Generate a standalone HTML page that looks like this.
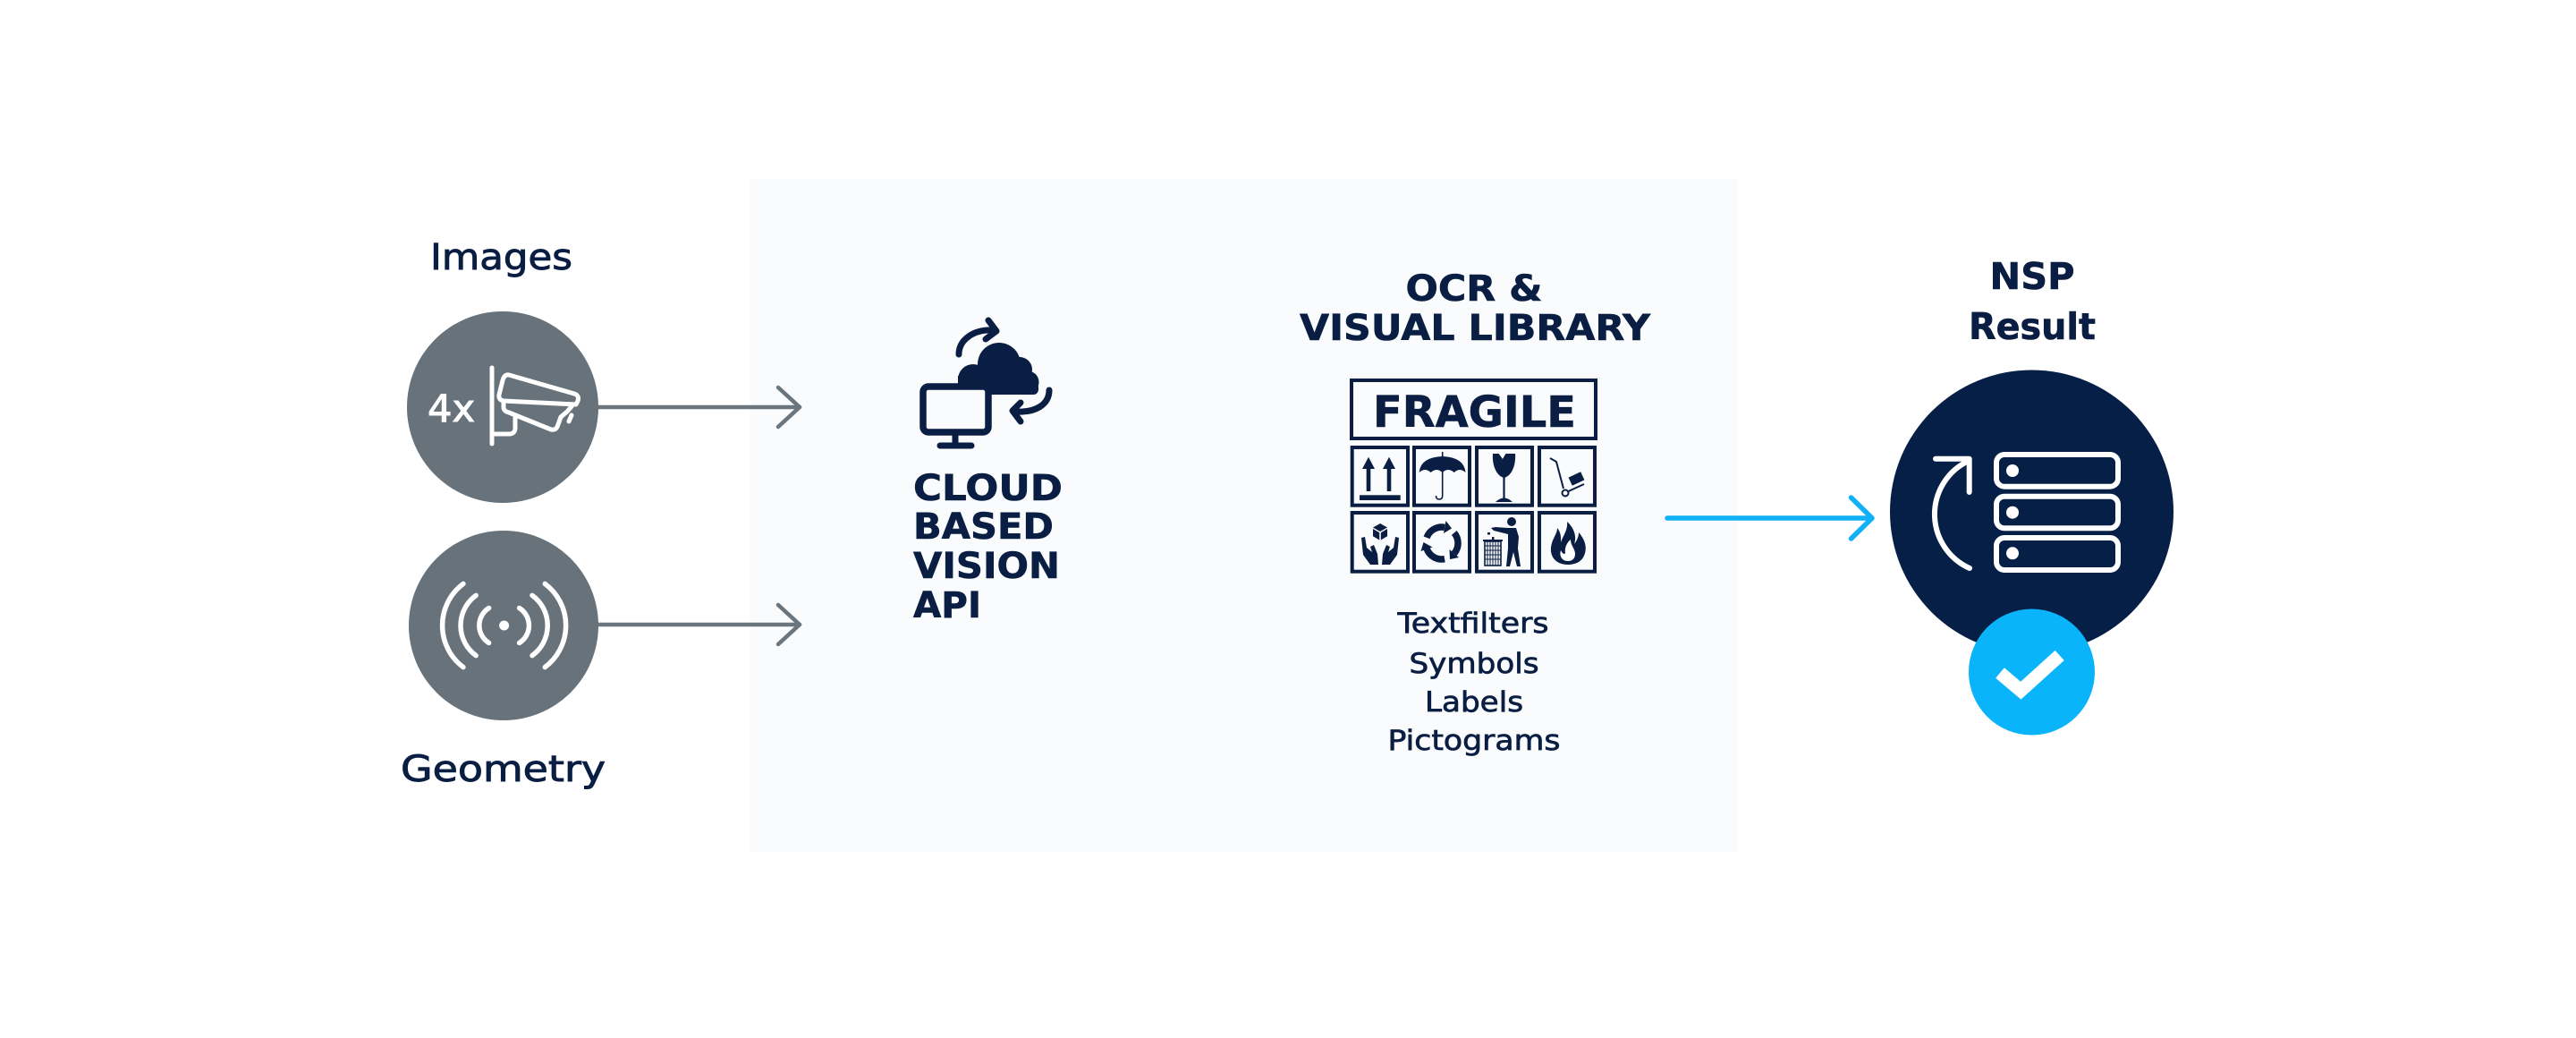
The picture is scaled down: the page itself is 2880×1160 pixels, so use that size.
<!DOCTYPE html>
<html>
<head>
<meta charset="utf-8">
<style>
html,body{margin:0;padding:0;background:#fff;}
svg{display:block;}
text{font-family:"DejaVu Sans","Liberation Sans",sans-serif;}
</style>
</head>
<body>
<svg width="2880" height="1160" viewBox="0 0 2880 1160" xmlns="http://www.w3.org/2000/svg">
  <rect width="2880" height="1160" fill="#ffffff"/>
  <!-- central panel -->
  <rect x="839" y="200" width="1104" height="752" fill="#f9fbfd"/>

  <!-- gray arrows -->
  <g stroke="#6b757d" stroke-width="4.5" fill="none" stroke-linecap="round" stroke-linejoin="round">
    <path d="M660,455 L894,455"/>
    <path d="M870,433 L894,455 L870,477"/>
    <path d="M660,698 L894,698"/>
    <path d="M870,676 L894,698 L870,720"/>
  </g>

  <!-- left circles -->
  <circle cx="562" cy="455" r="107" fill="#67727a"/>
  <circle cx="563" cy="699" r="106" fill="#67727a"/>

  <!-- camera icon -->
  <text x="478" y="471" font-size="42" fill="#ffffff" stroke="#ffffff" stroke-width="1" textLength="53" lengthAdjust="spacingAndGlyphs">4x</text>
  <g stroke="#ffffff" stroke-width="5" fill="none" stroke-linecap="round" stroke-linejoin="round">
    <path d="M550,411 L550,496"/>
    <path d="M569,419 L642,440 Q648,442 646,448 L644,452 L563,448 Q557,447 558,441 L562,425 Q564,418 569,419 Z"/>
    <path d="M563,450 L563,456 Q564,460 569,461 L616,480 Q621,481 623,477 L627,466 L634,460 L640,453"/>
    <path d="M639,464 L636,471"/>
    <path d="M576,465 L576,478 Q576,485 569,485 L552,485"/>
  </g>

  <!-- signal icon -->
  <g stroke="#ffffff" stroke-width="5.5" fill="none" stroke-linecap="round">
    <circle cx="563.6" cy="699" r="5.5" fill="#ffffff" stroke="none"/>
    <path d="M546.6,679.5 A23,23 0 0 0 546.6,718.5"/>
    <path d="M532.2,665.4 A41.4,41.4 0 0 0 532.2,732.6"/>
    <path d="M517.9,652.4 A58.2,58.2 0 0 0 517.9,745.6"/>
    <path d="M580.6,679.5 A23,23 0 0 1 580.6,718.5"/>
    <path d="M595,665.4 A41.4,41.4 0 0 1 595,732.6"/>
    <path d="M609.3,652.4 A58.2,58.2 0 0 1 609.3,745.6"/>
  </g>

  <g fill="#0a1e43" stroke="#0a1e43" stroke-width="0.9">
    <text x="481" y="301" font-size="40" textLength="159" lengthAdjust="spacingAndGlyphs">Images</text>
    <text x="448" y="873" font-size="40" textLength="229" lengthAdjust="spacingAndGlyphs">Geometry</text>
  </g>

  <!-- cloud icon -->
  <g fill="#0a1e43">
    <circle cx="1088" cy="424" r="17"/>
    <circle cx="1117" cy="407" r="24"/>
    <circle cx="1140" cy="413" r="14"/>
    <circle cx="1149" cy="427" r="12.5"/>
    <path d="M1071,420 L1158,420 Q1161.5,430 1161,436 Q1160,441 1155,441 L1071,441 Z"/>
  </g>
  <rect x="1032" y="432" width="73" height="51" rx="6" fill="#f9fbfd" stroke="#0a1e43" stroke-width="7.5"/>
  <g stroke="#0a1e43" stroke-width="7" fill="none" stroke-linecap="round" stroke-linejoin="round">
    <path d="M1068,487 L1068,497"/>
    <path d="M1051,498 L1086,498"/>
    <path d="M1072,396 C1072,380 1088,368 1110,369"/>
    <path d="M1105,358 L1114,370 L1102,379"/>
    <path d="M1173,436 C1173,452 1158,461 1137,460"/>
    <path d="M1141,450 L1132,459 L1141,471"/>
  </g>

  <g font-weight="bold" font-size="40" fill="#0a1e43" stroke="#0a1e43" stroke-width="0.6">
    <text x="1021" y="559" textLength="167" lengthAdjust="spacingAndGlyphs">CLOUD</text>
    <text x="1021" y="602" textLength="157" lengthAdjust="spacingAndGlyphs">BASED</text>
    <text x="1021" y="646" textLength="164" lengthAdjust="spacingAndGlyphs">VISION</text>
    <text x="1021" y="690" textLength="76" lengthAdjust="spacingAndGlyphs">API</text>
    <text x="1648" y="336" text-anchor="middle" textLength="153" lengthAdjust="spacingAndGlyphs">OCR &amp;</text>
    <text x="1649" y="380" text-anchor="middle" textLength="392" lengthAdjust="spacingAndGlyphs">VISUAL LIBRARY</text>
  </g>

  <!-- FRAGILE box -->
  <g fill="none" stroke="#0a1e43" stroke-width="4">
    <rect x="1511" y="425" width="273" height="65"/>
    <rect x="1511.7" y="500" width="62.3" height="64.7"/>
    <rect x="1581" y="500" width="62" height="64.7"/>
    <rect x="1651" y="500" width="62" height="64.7"/>
    <rect x="1721" y="500" width="62" height="64.7"/>
    <rect x="1511.7" y="573" width="62.3" height="65.7"/>
    <rect x="1581" y="573" width="62" height="65.7"/>
    <rect x="1651" y="573" width="62" height="65.7"/>
    <rect x="1721" y="573" width="62" height="65.7"/>
  </g>
  <text x="1648.5" y="477" font-size="48" font-weight="bold" fill="#0a1e43" stroke="#0a1e43" stroke-width="0.6" text-anchor="middle" textLength="227" lengthAdjust="spacingAndGlyphs">FRAGILE</text>

  <g fill="#0a1e43">
    <!-- cell1 arrows -->
    <polygon points="1530,510.7 1537,524 1523,524"/>
    <rect x="1527.7" y="523" width="4.6" height="26"/>
    <polygon points="1553,510.7 1560,524 1546,524"/>
    <rect x="1550.7" y="523" width="4.6" height="26"/>
    <rect x="1520" y="553.3" width="45.7" height="5.7"/>
    <!-- cell2 umbrella -->
    <path d="M1586.7,528 Q1588,511 1612.7,510 Q1637,511 1638.5,528 Q1632,522 1625.7,528 Q1619,522 1612.7,528 Q1606,522 1599.7,528 Q1593,522 1586.7,528 Z"/>
    <!-- cell3 glass -->
    <path d="M1669,507 L1694,507 C1695,520 1690,532 1681.5,534 C1673,532 1668,520 1669,507 Z"/>
    <polygon points="1675,506 1680,513 1677,518 1684,506" fill="#ffffff"/>
    <rect x="1680.4" y="532" width="2.2" height="25"/>
    <path d="M1672,561 Q1681.5,552 1691,561 Z"/>
    <!-- cell4 truck box -->
    <rect x="1755" y="530" width="15" height="10" transform="rotate(-25 1762.5 535)"/>
    <!-- cell5 cube -->
    <polygon points="1543,585 1551,589.5 1543,594 1535,589.5"/>
    <polygon points="1535,591 1542.2,595.3 1542.2,603.5 1535,599.2"/>
    <polygon points="1543.8,595.3 1551,591 1551,599.2 1543.8,603.5"/>
    <path d="M1522,601 L1526,600 L1528,612 L1534,617 L1532,611 L1536,609 L1540,619 L1541,631 L1532,631 L1524,620 Z"/>
    <path d="M1564,601 L1560,600 L1558,612 L1552,617 L1554,611 L1550,609 L1546,619 L1545,631 L1554,631 L1562,620 Z"/>
    <!-- cell7 person -->
    <circle cx="1690" cy="583" r="5"/>
    <polygon points="1686,590 1695,590 1698,600 1697,613 1700,633 1696,633 1692,617 1688,633 1684,633 1686,613 1686,597 1670,593 1667,590 1672,589"/>
    <rect x="1663" y="595" width="3" height="2.5"/>
    <rect x="1668" y="600" width="2.5" height="3"/>
    <!-- cell8 fire -->
    <path d="M1753,631 C1738,631 1731,620 1735,607 C1737,600 1741,596 1741,590 C1746,596 1745,603 1745,606 C1748,598 1753,592 1752,583 C1760,590 1763,600 1760,608 C1763,604 1765,600 1765,595 C1772,603 1775,612 1771,621 C1768,628 1761,631 1753,631 Z"/>
    <path d="M1753,627 C1746,627 1743,621 1745,615 C1747,619 1749,620 1750,618 C1749,612 1752,606 1756,603 C1756,610 1761,613 1761,619 C1761,624 1758,627 1753,627 Z" fill="#ffffff"/>
    <!-- recycle arrowheads -->
    <polygon points="1623,590.5 1616.5,582 1614,596"/>
    <polygon points="1621,625 1631,623 1620.5,614"/>
    <polygon points="1591.5,606 1588.5,616 1601.5,611.5"/>
  </g>
  <g fill="none" stroke="#0a1e43">
    <path d="M1612.7,505 L1612.7,554 Q1612.7,558 1609,558 Q1605.5,558 1605.5,554" stroke-width="1.6"/>
    <path d="M1733,512 L1740,516 L1748,546" stroke-width="2"/>
    <circle cx="1750" cy="551" r="3.5" stroke-width="2"/>
    <path d="M1753.5,549 L1771,541" stroke-width="2"/>
    <path d="M1595.1,600.8 A18,18 0 0 1 1615.1,589.3" stroke-width="7.5"/>
    <path d="M1625.8,595.4 A18,18 0 0 1 1625.8,618.6" stroke-width="7.5"/>
    <path d="M1615.1,624.7 A18,18 0 0 1 1595.1,613.2" stroke-width="7.5"/>
    <!-- trash bin -->
    <rect x="1660" y="605" width="18" height="27" stroke-width="1.6"/>
    <path d="M1663,605 L1663,632 M1666,605 L1666,632 M1669,605 L1669,632 M1672,605 L1672,632 M1675,605 L1675,632 M1660,610 L1678,610 M1660,615 L1678,615 M1660,620 L1678,620 M1660,625 L1678,625" stroke-width="1"/>
    <path d="M1658,604 L1680,604" stroke-width="2"/>
  </g>

  <g font-size="31" fill="#0a1e43" stroke="#0a1e43" stroke-width="0.7" text-anchor="middle">
    <text x="1647" y="707" textLength="169" lengthAdjust="spacingAndGlyphs">Textfilters</text>
    <text x="1648" y="752" textLength="145" lengthAdjust="spacingAndGlyphs">Symbols</text>
    <text x="1648" y="795" textLength="110" lengthAdjust="spacingAndGlyphs">Labels</text>
    <text x="1648" y="838" textLength="193" lengthAdjust="spacingAndGlyphs">Pictograms</text>
  </g>

  <!-- blue arrow -->
  <g stroke="#10b1f6" stroke-width="5.5" fill="none" stroke-linecap="round" stroke-linejoin="round">
    <path d="M1864,579 L2092,579"/>
    <path d="M2069.5,556 L2093,579 L2069.5,602"/>
  </g>

  <!-- NSP result -->
  <g font-weight="bold" font-size="41" fill="#0a1e43" stroke="#0a1e43" stroke-width="0.6" text-anchor="middle">
    <text x="2272" y="323" textLength="95" lengthAdjust="spacingAndGlyphs">NSP</text>
    <text x="2272" y="379" textLength="142" lengthAdjust="spacingAndGlyphs">Result</text>
  </g>
  <circle cx="2271.5" cy="572" r="158.5" fill="#061f47"/>
  <g stroke="#ffffff" stroke-width="6" fill="none" stroke-linecap="round" stroke-linejoin="round">
    <rect x="2232" y="508" width="136" height="35.7" rx="9"/>
    <rect x="2232" y="554.7" width="136" height="35.6" rx="9"/>
    <rect x="2232" y="601" width="136" height="36" rx="9"/>
    <path d="M2202,635 A66,66 0 0 1 2197,517"/>
    <path d="M2164,512.7 L2201.7,512.7 L2201.7,550"/>
  </g>
  <g fill="#ffffff">
    <circle cx="2250" cy="526" r="7"/>
    <circle cx="2250" cy="572.7" r="7"/>
    <circle cx="2250" cy="618.3" r="7"/>
  </g>
  <circle cx="2271.5" cy="751" r="70.5" fill="#0ab4fa"/>
  <polyline points="2236,752 2259.3,771.7 2302.7,732.4" fill="none" stroke="#ffffff" stroke-width="15" stroke-linejoin="miter"/>
</svg>
</body>
</html>
